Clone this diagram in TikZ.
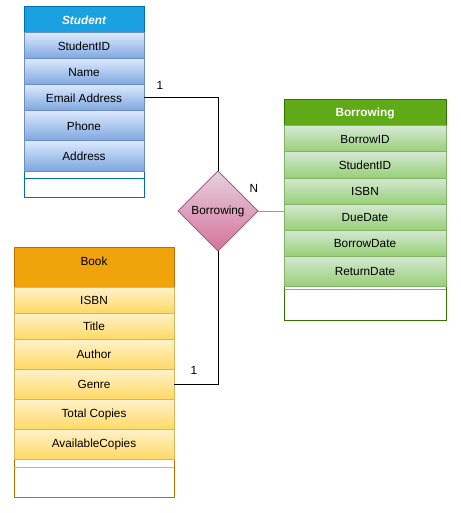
\documentclass[tikz,border=0pt]{standalone}
\usepackage{fontspec}
\setmainfont{Liberation Sans}
\usetikzlibrary{shapes.geometric}

\definecolor{stuhead}{HTML}{1BA1E2}
\definecolor{stuframe}{HTML}{006EAF}
\definecolor{stutop}{HTML}{DAE8FC}
\definecolor{stubot}{HTML}{7EA6E0}
\definecolor{stuline}{HTML}{6C8EBF}
\definecolor{borhead}{HTML}{60A917}
\definecolor{borframe}{HTML}{2D7600}
\definecolor{bortop}{HTML}{D5E8D4}
\definecolor{borbot}{HTML}{97D077}
\definecolor{borline}{HTML}{82B366}
\definecolor{bookhead}{HTML}{F0A30A}
\definecolor{bookframe}{HTML}{BD7000}
\definecolor{booktop}{HTML}{FFF2CC}
\definecolor{bookbot}{HTML}{FFD966}
\definecolor{bookline}{HTML}{D6B656}
\definecolor{reltop}{HTML}{E6D0DE}
\definecolor{relbot}{HTML}{D5739D}
\definecolor{relline}{HTML}{996185}

\begin{document}
\begin{tikzpicture}[
        x=1pt, y=-1pt,
        every node/.style={font=\fontsize{11.8}{13}\selectfont, inner sep=0pt, outer sep=0pt},
        box/.style={rectangle, anchor=north west, line width=1pt},
        frame/.style={box, fill=white},
        sturow/.style={box, draw=stuline, top color=stutop, bottom color=stubot, minimum width=120pt},
        borrow/.style={box, draw=borline, top color=bortop, bottom color=borbot, minimum width=162pt},
        bookrow/.style={box, draw=bookline, top color=booktop, bottom color=bookbot, minimum width=160pt},
        card/.style={font=\fontsize{11.8}{13}\selectfont}
    ]
    \useasboundingbox (0,0) rectangle (460,513);

    % Classe Student
    \node[frame, draw=stuframe, minimum width=120pt, minimum height=190pt] (student) at (24,7) {};
    \node[box, draw=stuframe, fill=stuhead, minimum width=120pt, minimum height=26pt, text=white, font=\fontsize{11.8}{13}\selectfont\bfseries\itshape] (stuhead) at (24,7) {Student};
    \node[sturow, minimum height=26pt] (stuid) at (24,33) {StudentID};
    \node[sturow, minimum height=26pt] (stuname) at (24,59) {Name};
    \node[sturow, minimum height=26pt] (stumail) at (24,85) {Email Address};
    \node[sturow, minimum height=30pt] (stuphone) at (24,111) {Phone};
    \node[sturow, minimum height=30pt] (stuaddr) at (24,141) {Address};
    \draw[stuframe, line width=1pt] (student.west |- 0,178) -- (student.east |- 0,178);

    % Classe Borrowing
    \node[frame, draw=borframe, minimum width=162pt, minimum height=220pt] (borrowing) at (284,100) {};
    \node[box, draw=borframe, fill=borhead, minimum width=162pt, minimum height=26pt, text=white, font=\fontsize{11.8}{13}\selectfont\bfseries] (borhead) at (284,100) {Borrowing};
    \node[borrow, minimum height=26pt] (borid) at (284,126) {BorrowID};
    \node[borrow, minimum height=26pt] (borstu) at (284,152) {StudentID};
    \node[borrow, minimum height=26pt] (borisbn) at (284,178) {ISBN};
    \node[borrow, minimum height=26pt] (bordue) at (284,204) {DueDate};
    \node[borrow, minimum height=26pt] (bordate) at (284,230) {BorrowDate};
    \node[borrow, minimum height=30pt] (borret) at (284,256) {ReturnDate};
    \draw[borline, line width=1pt] (borrowing.west |- 0,289) -- (borrowing.east |- 0,289);

    % Classe Book
    \node[frame, draw=bookframe, minimum width=160pt, minimum height=250pt] (book) at (14,247) {};
    \node[box, draw=bookframe, fill=bookhead, minimum width=160pt, minimum height=40pt] (bookhd) at (14,247) {};
    \node (booktitle) at (94,261) {Book};
    \node[bookrow, minimum height=26pt] (bookisbn) at (14,287) {ISBN};
    \node[bookrow, minimum height=26pt] (booktit) at (14,313) {Title};
    \node[bookrow, minimum height=30pt] (bookauth) at (14,339) {Author};
    \node[bookrow, minimum height=30pt] (bookgenre) at (14,369) {Genre};
    \node[bookrow, minimum height=30pt] (booktotal) at (14,399) {Total Copies};
    \node[bookrow, minimum height=30pt] (bookavail) at (14,429) {AvailableCopies};
    \draw[bookline, line width=1pt] (book.west |- 0,467) -- (book.east |- 0,467);

    % Relation Borrowing
    \node[diamond, aspect=1, minimum size=80pt, draw=relline, line width=1pt, top color=reltop, bottom color=relbot] (rel) at (218,211) {Borrowing};

    % Associations
    \draw[line width=1pt] (stumail.east) -| (rel.north);
    \draw[line width=1pt] (bookgenre.east) -| (rel.south);
    \draw[borline, line width=1pt] (rel.east) -- (rel.east -| borrowing.west);

    % Cardinalites
    \node[card] (cardstu) at (160,85) {1};
    \node[card] (cardbook) at (194,370) {1};
    \node[card] (cardbor) at (254,188) {N};

    \end{tikzpicture}
\end{document}
